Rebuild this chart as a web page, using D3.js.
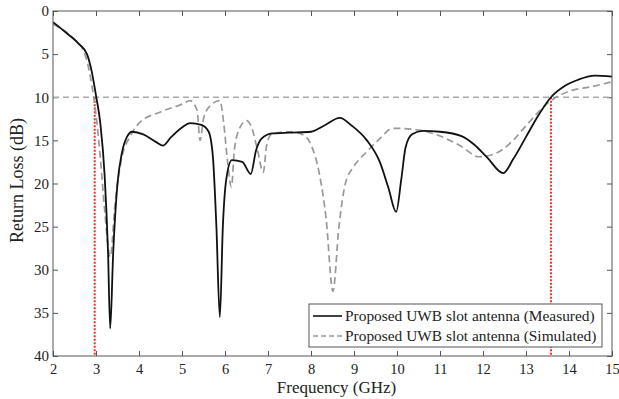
<!DOCTYPE html>
<html><head><meta charset="utf-8">
<script src="https://cdn.jsdelivr.net/npm/d3@7/dist/d3.min.js"></script>
<style>body{margin:0;background:#fff}svg{display:block}text{font-family:"Liberation Serif","DejaVu Serif",serif;fill:#222}</style>
</head><body><svg id="c" width="619" height="399"></svg>
<script>
const xTicks=[2,3,4,5,6,7,8,9,10,11,12,13,14,15];
const yTicks=[0,5,10,15,20,25,30,35,40];
const measuredF=[2,2.3,2.6,2.79,2.9,3.0,3.1,3.2,3.28,3.33,3.4,3.5,3.6,3.72,3.84,4.1,4.4,4.56,4.75,5.0,5.19,5.45,5.62,5.72,5.8,5.88,5.95,6.03,6.16,6.4,6.6,6.72,6.85,7.1,7.5,8.0,8.3,8.67,8.95,9.3,9.6,9.8,9.98,10.1,10.2,10.35,10.6,11.0,11.5,11.8,12.1,12.47,12.7,13.0,13.3,13.58,13.9,14.2,14.6,15];
const measuredDB=[1.3,2.5,3.8,5.0,7.0,9.8,13,19,28,36.8,28,20,16.5,14.6,14.0,14.3,15.2,15.6,14.6,13.5,13.0,13.2,14,17,25,35.5,25,19.5,17.3,17.5,18.9,16.2,14.8,14.2,14.1,14.0,13.3,12.4,13.3,15,17.5,20.5,23.3,19.5,15.8,14.3,13.9,14.0,14.5,15.5,17,18.8,17.2,14.6,12,10,8.7,8,7.5,7.6];
const simulatedF=[2,2.5,2.7,2.8,2.9,3.0,3.1,3.2,3.33,3.45,3.6,3.8,4.0,4.5,5.0,5.19,5.35,5.42,5.5,5.65,5.88,5.97,6.05,6.15,6.22,6.35,6.5,6.62,6.75,6.89,6.97,7.1,7.5,7.8,8.0,8.2,8.35,8.51,8.65,8.8,9.0,9.3,9.6,9.9,10.5,11.0,11.5,11.9,12.3,12.7,13.0,13.5,14.0,14.5,15];
const simulatedDB=[1.5,3.3,4.5,6,8.5,12,17,23,28.5,22,17,14.5,13,11.7,10.8,10.4,11.5,15,12.5,11,10.4,13,17,20.4,16,13.5,12.7,13.5,16,18.7,15.5,14.2,14,14.3,15.5,19,24,32.5,25,20,18,16.3,14.8,13.6,13.8,14.5,15.7,16.9,16.5,15,13.3,10.7,9.3,8.8,8.2];
const threshold=10;
const bandEdges=[2.97,13.58];
const legendLabels=["Proposed UWB slot antenna (Measured)","Proposed UWB slot antenna (Simulated)"];

const svg=d3.select("#c");
const L=53,R=612,T=11,B=356;
const x=d3.scaleLinear().domain([2,15]).range([L,R]);
const y=d3.scaleLinear().domain([0,40]).range([T,B]);
const g=svg.append("g");

const tk=5;
g.append("g").attr("transform",`translate(0,${B})`).call(d3.axisBottom(x).tickValues(xTicks).tickSizeInner(-tk).tickSizeOuter(0).tickPadding(8).tickFormat(d3.format("d")))
 .call(a=>{a.select(".domain").remove();a.selectAll("text").attr("font-size",14.5).attr("dy","0.71em");a.selectAll("line").attr("stroke","#555");});
g.append("g").attr("transform",`translate(0,${T})`).call(d3.axisTop(x).tickValues(xTicks).tickSizeInner(-tk).tickSizeOuter(0).tickFormat(""))
 .call(a=>{a.select(".domain").remove();a.selectAll("line").attr("stroke","#555");});
g.append("g").attr("transform",`translate(${L},0)`).call(d3.axisLeft(y).tickValues(yTicks).tickSizeInner(-tk).tickSizeOuter(0).tickPadding(4).tickFormat(d3.format("d")))
 .call(a=>{a.select(".domain").remove();a.selectAll("text").attr("font-size",15);a.selectAll("line").attr("stroke","#555");});
g.append("g").attr("transform",`translate(${R},0)`).call(d3.axisRight(y).tickValues(yTicks).tickSizeInner(-tk).tickSizeOuter(0).tickFormat(""))
 .call(a=>{a.select(".domain").remove();a.selectAll("line").attr("stroke","#555");});

svg.append("defs").append("clipPath").attr("id","pc").append("rect").attr("x",L).attr("y",T).attr("width",R-L).attr("height",B-T);
const p=g.append("g").attr("clip-path","url(#pc)");

p.append("line").attr("x1",L).attr("x2",R).attr("y1",y(threshold)).attr("y2",y(threshold))
 .attr("stroke","#aaa").attr("stroke-width",1.3).attr("stroke-dasharray","6,4");
bandEdges.forEach(f=>p.append("line").attr("x1",x(f)).attr("x2",x(f)).attr("y1",y(threshold)).attr("y2",B)
 .attr("stroke","#e8302a").attr("stroke-width",2).attr("stroke-dasharray","2,1.5"));

const line=d3.line().x(d=>x(d[0])).y(d=>y(d[1])).curve(d3.curveMonotoneX);
p.append("path").datum(d3.zip(simulatedF,simulatedDB)).attr("d",line).attr("fill","none")
 .attr("stroke","#999").attr("stroke-width",1.7).attr("stroke-dasharray","7,4");
p.append("path").datum(d3.zip(measuredF,measuredDB)).attr("d",line).attr("fill","none")
 .attr("stroke","#111").attr("stroke-width",1.8);

g.append("rect").attr("x",L).attr("y",T).attr("width",R-L).attr("height",B-T).attr("fill","none").attr("stroke","#555").attr("stroke-width",1);

const lg=g.append("g");
lg.append("rect").attr("x",309).attr("y",304).attr("width",293).attr("height",43).attr("fill","#fff").attr("stroke","#555");
[[legendLabels[0],"#111",null,1.6],[legendLabels[1],"#999","5,3",1.4]].forEach((d,i)=>{
  const yy=316+i*20;
  lg.append("line").attr("x1",313).attr("x2",342).attr("y1",yy).attr("y2",yy).attr("stroke",d[1]).attr("stroke-width",d[3]).attr("stroke-dasharray",d[2]);
  lg.append("text").attr("x",345).attr("y",yy).attr("dy","0.35em").attr("font-size",15.4).text(d[0]);
});

g.append("text").attr("x",(L+R)/2+4).attr("y",393).attr("text-anchor","middle").attr("font-size",17).text("Frequency (GHz)");
g.append("text").attr("transform",`translate(23,${(T+B)/2-3}) rotate(-90)`).attr("text-anchor","middle").attr("font-size",18).text("Return Loss (dB)");
</script></body></html>
